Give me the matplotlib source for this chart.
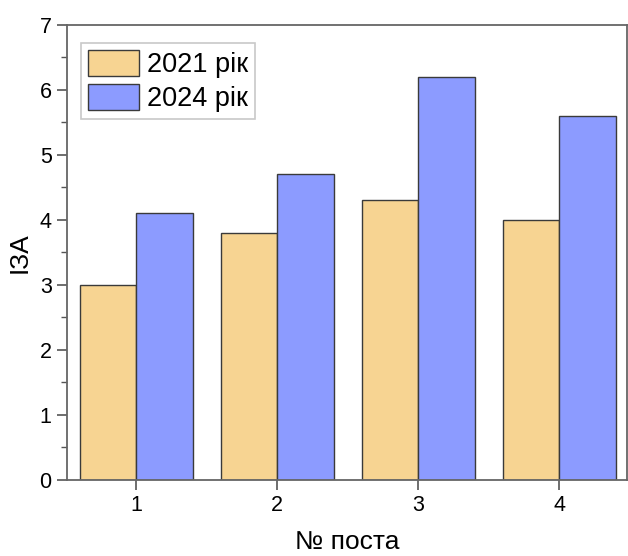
import matplotlib
matplotlib.use("Agg")
import matplotlib.pyplot as plt
import numpy as np
from matplotlib.ticker import MultipleLocator

posts = [1, 2, 3, 4]
vals_2021 = [3.0, 3.8, 4.3, 4.0]
vals_2024 = [4.1, 4.7, 6.2, 5.6]
labels = ["2021 рік", "2024 рік"]

plt.rcParams['font.family'] = ['Liberation Sans', 'DejaVu Sans']

fig = plt.figure(figsize=(6.28, 5.56), dpi=100)
ax = fig.add_axes([0.1067, 0.1367, 0.8917, 0.819])

x = np.array(posts)
w = 0.4
ax.bar(x - w/2, vals_2021, width=w, color='#F7D492', edgecolor='#3a3a3a', linewidth=1.0, label=labels[0], zorder=2)
ax.bar(x + w/2, vals_2024, width=w, color='#8C9BFF', edgecolor='#3a3a3a', linewidth=1.0, label=labels[1], zorder=2)

ax.set_xlim(0.51, 4.48)
ax.set_ylim(0, 7)
ax.set_xticks(posts)
ax.yaxis.set_major_locator(MultipleLocator(1))
ax.yaxis.set_minor_locator(MultipleLocator(0.5))
ax.tick_params(axis='both', which='major', direction='out', length=7, width=1.2, color='#555555', labelsize=15.5, pad=4)
ax.tick_params(axis='y', which='minor', direction='out', length=4, width=1.0, color='#555555')
for s in ax.spines.values():
    s.set_color('#666666')
    s.set_linewidth(1.3)

ax.set_xlabel("№ поста", fontsize=19, labelpad=10)
ax.set_ylabel("ІЗА", fontsize=19, labelpad=6)

leg = ax.legend(loc='upper left', bbox_to_anchor=(0.025, 0.96), fontsize=19.5, frameon=True, fancybox=False,
                handlelength=1.9, handleheight=1.1, handletextpad=0.3, borderpad=0.25, labelspacing=0.22, borderaxespad=0)
leg.get_frame().set_edgecolor('#bbbbbb')
leg.get_frame().set_linewidth(1.2)

fig.savefig("out.png", dpi=100)
